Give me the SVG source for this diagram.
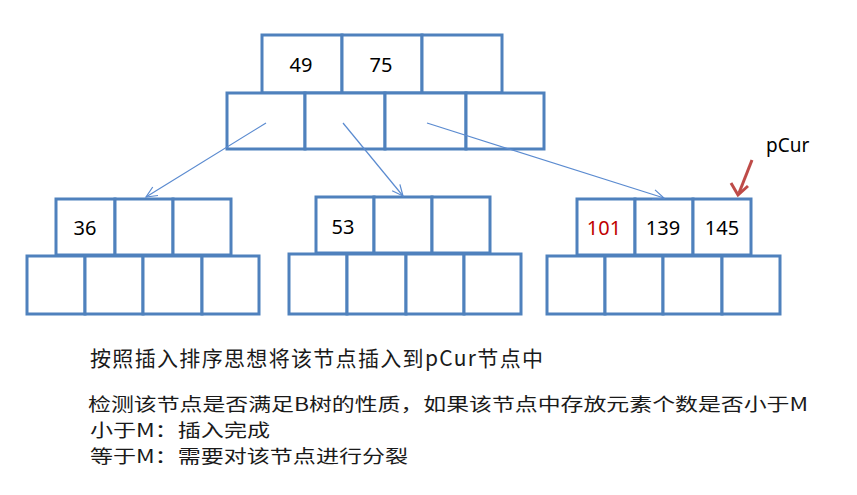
<svg xmlns="http://www.w3.org/2000/svg" width="857" height="495" viewBox="0 0 857 495">
<defs>
<style>
.cell{fill:#ffffff;stroke:#4f81bd;stroke-width:3}
.num{font-family:"Noto Sans","Open Sans",sans-serif;font-size:20px;fill:#000;text-anchor:middle}
.red{fill:#c00000}
.link{stroke:#5b8bd0;stroke-width:1.2;fill:none}
.cn{font-family:"Noto Sans CJK SC","Noto Sans",sans-serif;font-size:21px;fill:#1a1a1a}
.cs{font-family:"Noto Sans CJK SC","Noto Sans",sans-serif;font-size:18px;fill:#1a1a1a}
</style>
<marker id="ah" markerWidth="14" markerHeight="14" refX="12" refY="6" orient="auto" markerUnits="userSpaceOnUse">
<path d="M1,1 L12,6 L1,11" fill="none" stroke="#5b8bd0" stroke-width="1.2"/>
</marker>
</defs>
<rect width="857" height="495" fill="#ffffff"/>

<g id="root">
<rect class="cell" x="262" y="35" width="80" height="58"/>
<rect class="cell" x="342" y="35" width="80" height="58"/>
<rect class="cell" x="422" y="35" width="80" height="58"/>
<rect class="cell" x="227" y="93" width="78" height="56"/>
<rect class="cell" x="305" y="93" width="80" height="56"/>
<rect class="cell" x="385" y="93" width="81" height="56"/>
<rect class="cell" x="466" y="93" width="78" height="56"/>
<text class="num" x="301" y="72">49</text>
<text class="num" x="381" y="72">75</text>
</g>

<g id="child-left">
<rect class="cell" x="56" y="199" width="59" height="56"/>
<rect class="cell" x="115" y="199" width="58" height="56"/>
<rect class="cell" x="173" y="199" width="58" height="56"/>
<rect class="cell" x="27" y="256" width="58" height="58"/>
<rect class="cell" x="85" y="256" width="58" height="58"/>
<rect class="cell" x="143" y="256" width="59" height="58"/>
<rect class="cell" x="202" y="256" width="57" height="58"/>
<text class="num" x="85" y="235">36</text>
</g>

<g id="child-mid">
<rect class="cell" x="316" y="197" width="58" height="56"/>
<rect class="cell" x="374" y="197" width="58" height="56"/>
<rect class="cell" x="432" y="197" width="58" height="56"/>
<rect class="cell" x="289" y="254" width="58" height="60"/>
<rect class="cell" x="347" y="254" width="59" height="60"/>
<rect class="cell" x="406" y="254" width="58" height="60"/>
<rect class="cell" x="464" y="254" width="57" height="60"/>
<text class="num" x="343" y="234">53</text>
</g>

<g id="child-right">
<rect class="cell" x="577" y="199" width="58" height="56"/>
<rect class="cell" x="635" y="199" width="58" height="56"/>
<rect class="cell" x="693" y="199" width="58" height="56"/>
<rect class="cell" x="547" y="256" width="58" height="58"/>
<rect class="cell" x="605" y="256" width="58" height="58"/>
<rect class="cell" x="663" y="256" width="59" height="58"/>
<rect class="cell" x="722" y="256" width="58" height="58"/>
<text class="num red" x="604" y="235">101</text>
<text class="num" x="663" y="235">139</text>
<text class="num" x="722" y="235">145</text>
</g>

<g id="pcur">
<text x="766" y="152" font-family="'Noto Sans','Open Sans',sans-serif" font-size="19" fill="#000">pCur</text>
</g>

<g id="connectors">
<line class="link" x1="266" y1="123" x2="146" y2="197" marker-end="url(#ah)"/>
<line class="link" x1="343" y1="123" x2="403" y2="196" marker-end="url(#ah)"/>
<line class="link" x1="427" y1="123" x2="664" y2="198" marker-end="url(#ah)"/>
<line x1="752" y1="160" x2="739" y2="193" stroke="#be4b48" stroke-width="3"/>
<path d="M731,183 L738,195 L748,186" fill="none" stroke="#be4b48" stroke-width="3" stroke-linejoin="miter"/>
</g>

<g id="notes">
<text class="cn" x="90" y="366" textLength="453" lengthAdjust="spacing">按照插入排序思想将该节点插入到pCur节点中</text>
<text class="cs" x="88" y="411" textLength="720" lengthAdjust="spacingAndGlyphs">检测该节点是否满足B树的性质，如果该节点中存放元素个数是否小于M</text>
<text class="cs" x="90" y="437" textLength="180" lengthAdjust="spacingAndGlyphs">小于M：插入完成</text>
<text class="cs" x="90" y="463" textLength="318" lengthAdjust="spacingAndGlyphs">等于M：需要对该节点进行分裂</text>
</g>
</svg>
